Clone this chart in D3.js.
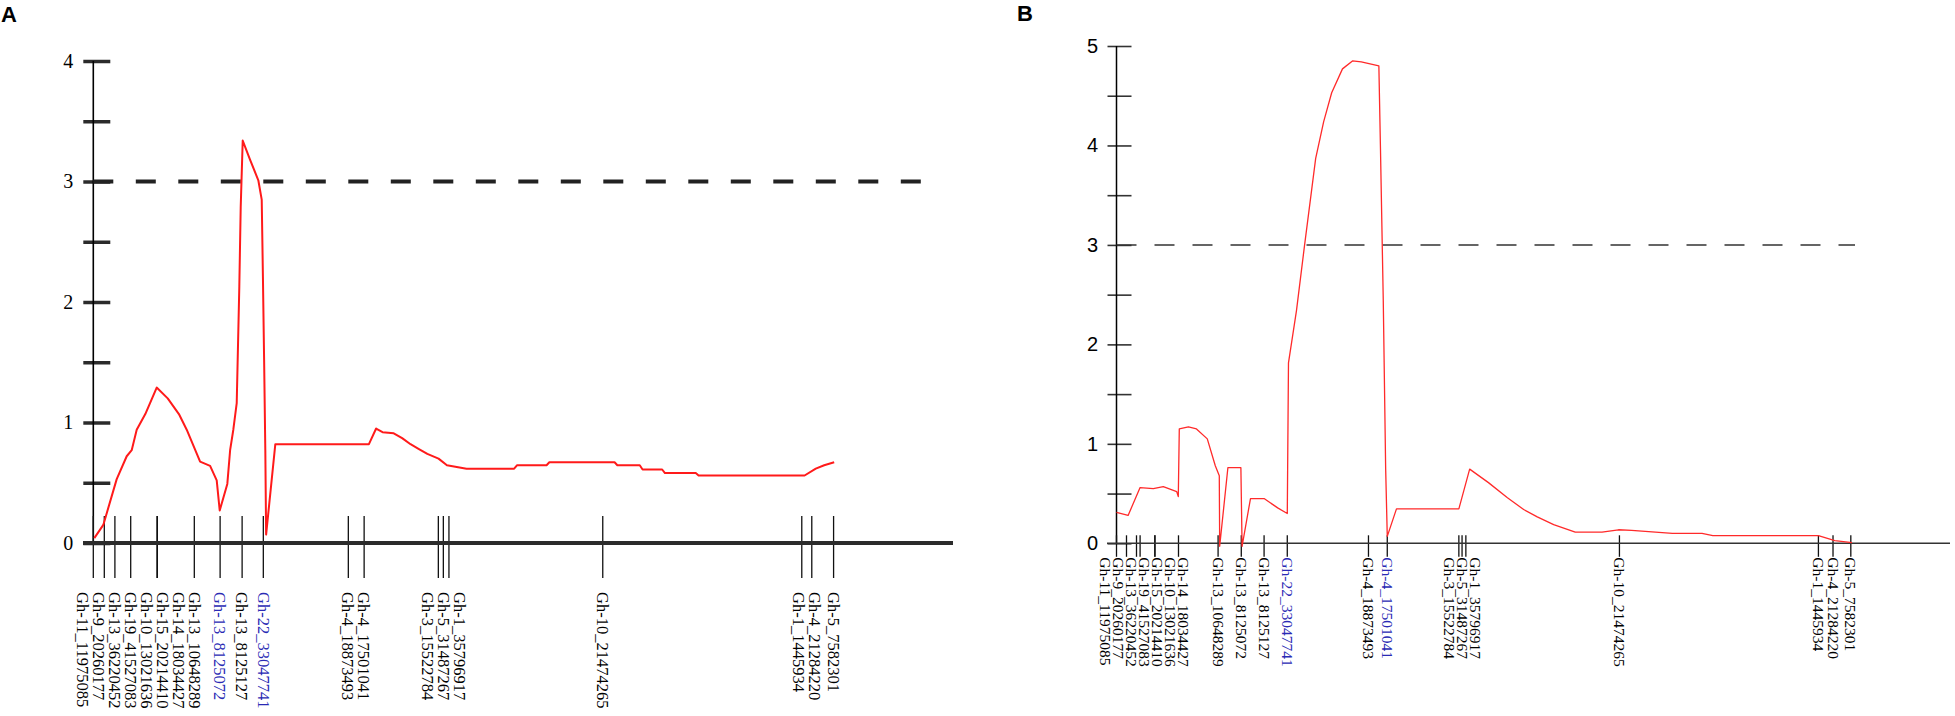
<!DOCTYPE html>
<html>
<head>
<meta charset="utf-8">
<script src="https://cdn.jsdelivr.net/npm/d3@7"></script>
<style>
  body { margin: 0; background: #fff; }
  svg { display: block; }
</style>
</head>
<body>
<svg id="chart" width="1955" height="716"></svg>
<script>
// ---- panel A data ----
const markerNamesA = ["Gh-11_11975085", "Gh-9_20260177", "Gh-13_36220452", "Gh-19_41527083",
  "Gh-10_13021636", "Gh-15_20214410", "Gh-14_18034427", "Gh-13_10648289", "Gh-13_8125072",
  "Gh-13_8125127", "Gh-22_33047741", "Gh-4_18873493", "Gh-4_17501041", "Gh-3_15522784",
  "Gh-5_31487267", "Gh-1_35796917", "Gh-10_21474265", "Gh-1_1445934", "Gh-4_21284220", "Gh-5_7582301"];
const markerPosA = [0, 2.75, 5.4, 9.35, 16.0, 16.0, 16.0, 25.25, 31.7, 37.2, 42.5, 63.75, 67.7,
  86.25, 87.5, 88.9, 127.35, 177.1, 179.6, 185.05];
const highlightA = ["Gh-13_8125072", "Gh-22_33047741"];

const curvePosA = [0.25, 2.5, 5.85, 8.35, 9.6, 10.85, 13.0, 15.85, 18.6, 21.4, 23.35, 26.7, 29.2,
  30.85, 31.6, 33.5, 34.2, 35.0, 35.85, 36.5, 36.85, 37.35, 39.2, 41.25, 42.1, 42.4, 42.7, 43.0,
  43.2, 45.5, 68.9, 70.7, 72.3, 75.1, 77.2, 79.3, 81.4, 83.5, 86.3, 88.4, 93.3, 105.2, 105.9,
  113.3, 114.0, 130.3, 131.0, 136.6, 137.3, 142.2, 142.9, 150.6, 151.3, 177.8, 180.6, 182.7, 185.2];
const curveLodA = [0.04, 0.15, 0.53, 0.72, 0.77, 0.94, 1.07, 1.29, 1.20, 1.07, 0.94, 0.675, 0.64,
  0.52, 0.27, 0.49, 0.77, 0.94, 1.16, 2.13, 2.79, 3.34, 3.18, 3.01, 2.85, 2.21, 1.52, 0.77,
  0.07, 0.82, 0.82, 0.95, 0.92, 0.91, 0.87, 0.82, 0.78, 0.74, 0.70, 0.645, 0.617, 0.617, 0.645,
  0.645, 0.67, 0.67, 0.645, 0.645, 0.61, 0.61, 0.58, 0.58, 0.56, 0.56, 0.617, 0.645, 0.67];
const yTicksA = [0, 0.5, 1, 1.5, 2, 2.5, 3, 3.5, 4];

// ---- panel B data ----
const markerNamesB = ["Gh-11_11975085", "Gh-9_20260177", "Gh-13_36220452", "Gh-19_41527083",
  "Gh-15_20214410", "Gh-10_13021636", "Gh-14_18034427", "Gh-13_10648289", "Gh-13_8125072",
  "Gh-13_8125127", "Gh-22_33047741", "Gh-4_18873493", "Gh-4_17501041", "Gh-3_15522784",
  "Gh-5_31487267", "Gh-1_35796917", "Gh-10_21474265", "Gh-1_1445934", "Gh-4_21284220", "Gh-5_7582301"];
const markerPosB = [0, 2.5, 5.0, 5.9, 9.6, 9.6, 15.5, 25.4, 31.2, 36.9, 42.7, 63.0, 67.7,
  85.6, 86.4, 87.35, 125.75, 175.5, 179.15, 183.6];
const highlightB = ["Gh-22_33047741", "Gh-4_17501041"];

const curvePosB = [0, 2.9, 5.9, 9.2, 11.7, 15.05, 15.45, 15.7, 17.98, 20.0, 22.7, 24.7, 25.7,
  25.8, 27.85, 31.1, 31.4, 33.5, 36.9, 40.3, 42.7, 43.0, 45.0, 47.0, 49.8, 51.8, 53.8, 56.5,
  59.0, 61.2, 65.6, 66.0, 66.7, 67.3, 67.7, 70.0, 85.6, 88.3, 93.0, 97.75, 101.8, 105.2, 109.3,
  114.7, 121.4, 125.5, 128.8, 139.0, 146.4, 149.1, 175.5, 179.6, 183.9];
const curveLodB = [0.31, 0.28, 0.56, 0.55, 0.57, 0.52, 0.47, 1.15, 1.17, 1.15, 1.05, 0.78, 0.68,
  -0.03, 0.76, 0.76, -0.03, 0.45, 0.45, 0.356, 0.30, 1.815, 2.34, 2.99, 3.87, 4.24, 4.53, 4.77,
  4.85, 4.84, 4.80, 3.97, 2.44, 0.746, 0.07, 0.346, 0.346, 0.746, 0.61, 0.458, 0.34, 0.265, 0.187,
  0.112, 0.112, 0.136, 0.129, 0.10, 0.10, 0.078, 0.078, 0.027, 0.007];
const yTicksB = [0, 0.5, 1, 1.5, 2, 2.5, 3, 3.5, 4, 4.5, 5];

const threshold = 3;

const svg = d3.select("#chart");

// spread overlapping labels: merge clusters and centre them on the mean tick
function spreadLabels(xs, gap) {
  let groups = xs.map((x, i) => ({ idx: [i], pos: x }));
  let merged = true;
  while (merged) {
    merged = false;
    for (let i = 0; i < groups.length - 1; i++) {
      const a = groups[i], b = groups[i + 1];
      const aEnd = a.pos + (a.idx.length - 1) * gap / 2;
      const bStart = b.pos - (b.idx.length - 1) * gap / 2;
      if (bStart - aEnd < gap) {
        const idx = a.idx.concat(b.idx);
        groups.splice(i, 2, { idx, pos: d3.mean(idx, j => xs[j]) });
        merged = true;
        break;
      }
    }
  }
  const out = [];
  groups.forEach(g => g.idx.forEach((j, k) => {
    out[j] = g.pos + (k - (g.idx.length - 1) / 2) * gap;
  }));
  return out;
}

function drawPanel(cfg) {
  const g = svg.append("g");
  const x = cfg.x, y = cfg.y;

  // y axis
  const yAxis = d3.axisLeft(y)
    .tickValues(cfg.yTicks)
    .tickFormat(d => Number.isInteger(d) ? d : "")
    .tickSizeInner(cfg.tickLeft)
    .tickSizeOuter(0)
    .tickPadding(cfg.tickPad);
  const ya = g.append("g")
    .attr("transform", `translate(${x(0)},0)`)
    .call(yAxis);
  ya.select(".domain").remove();
  ya.selectAll(".tick line")
    .attr("x1", cfg.tickRight)
    .attr("x2", -cfg.tickLeft)
    .attr("stroke", cfg.axisColor)
    .attr("stroke-width", cfg.tickWidth);
  ya.selectAll(".tick text")
    .attr("font-family", cfg.numFont)
    .attr("font-size", cfg.numSize)
    .attr("fill", "#000");

  g.append("line")
    .attr("x1", x(0)).attr("x2", x(0))
    .attr("y1", y(cfg.yTicks[cfg.yTicks.length - 1])).attr("y2", y(0))
    .attr("stroke", "#000").attr("stroke-width", cfg.yAxisWidth);

  // threshold
  g.append("line")
    .attr("x1", x(0)).attr("x2", cfg.dashEnd)
    .attr("y1", y(threshold)).attr("y2", y(threshold))
    .attr("stroke", cfg.dashColor)
    .attr("stroke-width", cfg.dashWidth)
    .attr("stroke-dasharray", cfg.dashArray);

  // marker ticks
  g.append("g").selectAll("line")
    .data(cfg.markerPos)
    .join("line")
    .attr("x1", d => x(d)).attr("x2", d => x(d))
    .attr("y1", y(0) - cfg.markUp).attr("y2", y(0) + cfg.markDown)
    .attr("stroke", "#111").attr("stroke-width", 1.3);

  // x axis line
  g.append("line")
    .attr("x1", cfg.xAxisStart).attr("x2", cfg.xAxisEnd)
    .attr("y1", y(0)).attr("y2", y(0))
    .attr("stroke", cfg.axisColor).attr("stroke-width", cfg.xAxisWidth);

  // LOD curve
  const pts = cfg.curvePos.map((p, i) => [p, cfg.curveLod[i]]);
  g.append("path")
    .datum(pts)
    .attr("fill", "none")
    .attr("stroke", cfg.curveColor)
    .attr("stroke-width", cfg.curveWidth)
    .attr("stroke-linejoin", "round")
    .attr("d", d3.line().x(d => x(d[0])).y(d => y(d[1])));

  // marker labels
  const lx = spreadLabels(cfg.markerPos.map(d => x(d)), cfg.labelGap);
  const labelY = y(0) + cfg.labelOffset;
  g.append("g").selectAll("text")
    .data(cfg.markerNames)
    .join("text")
    .attr("transform", (d, i) => `translate(${lx[i]},${labelY}) rotate(90)`)
    .attr("dy", "0.35em")
    .attr("font-family", "'Liberation Serif', 'Times New Roman', serif")
    .attr("font-size", cfg.labelSize)
    .attr("fill", d => cfg.highlight.includes(d) ? "#2a2ab4" : "#000")
    .text(d => d);

  // panel letter
  svg.append("text")
    .attr("x", cfg.letterX).attr("y", cfg.letterY)
    .attr("font-family", "'Liberation Sans', Arial, sans-serif")
    .attr("font-weight", "bold")
    .attr("font-size", 22)
    .text(cfg.letter);
}

drawPanel({
  letter: "A", letterX: 1, letterY: 22,
  x: d3.scaleLinear().domain([0, 214.9]).range([93.3, 953]),
  y: d3.scaleLinear().domain([0, 4]).range([543, 61]),
  yTicks: yTicksA,
  tickLeft: 10, tickRight: 17, tickPad: 10, tickWidth: 3.5,
  axisColor: "#2b2b2b", yAxisWidth: 1.6, xAxisWidth: 4,
  xAxisStart: 83, xAxisEnd: 953,
  numFont: "'Liberation Serif', 'Times New Roman', serif", numSize: 20,
  dashEnd: 943, dashColor: "#222", dashWidth: 4, dashArray: "20,22.5",
  markerPos: markerPosA, markerNames: markerNamesA, highlight: highlightA,
  markUp: 27, markDown: 35,
  curvePos: curvePosA, curveLod: curveLodA, curveColor: "#ff1a1a", curveWidth: 2,
  labelGap: 16, labelOffset: 49, labelSize: 16.5
});

drawPanel({
  letter: "B", letterX: 1017, letterY: 21,
  x: d3.scaleLinear().domain([0, 208.4]).range([1116.5, 1950]),
  y: d3.scaleLinear().domain([0, 5]).range([543.3, 46]),
  yTicks: yTicksB,
  tickLeft: 9, tickRight: 15, tickPad: 9.5, tickWidth: 1.6,
  axisColor: "#333", yAxisWidth: 1.5, xAxisWidth: 1.6,
  xAxisStart: 1107, xAxisEnd: 1950,
  numFont: "'Liberation Sans', Arial, sans-serif", numSize: 20,
  dashEnd: 1855, dashColor: "#333", dashWidth: 1.5, dashArray: "20,18",
  markerPos: markerPosB, markerNames: markerNamesB, highlight: highlightB,
  markUp: 8, markDown: 13.5,
  curvePos: curvePosB, curveLod: curveLodB, curveColor: "#ff2a2a", curveWidth: 1.3,
  labelGap: 13, labelOffset: 14, labelSize: 15.5
});
</script>
</body>
</html>
